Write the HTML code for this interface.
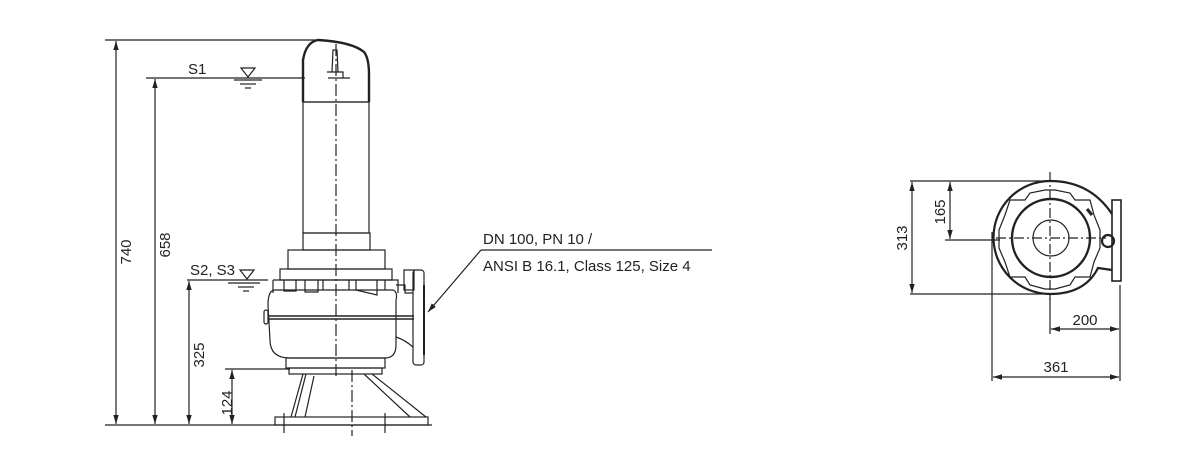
<!DOCTYPE html>
<html><head><meta charset="utf-8"><style>
html,body{margin:0;padding:0;background:#fff;width:1200px;height:453px;overflow:hidden}
svg text{font-family:"Liberation Sans",sans-serif;font-size:15px;fill:#222}
</style></head><body>
<svg width="1200" height="453" viewBox="0 0 1200 453" xmlns="http://www.w3.org/2000/svg">
<defs>
<marker id="a" viewBox="0 0 10 10" refX="10" refY="5" markerWidth="9" markerHeight="9" orient="auto-start-reverse" markerUnits="userSpaceOnUse"><path d="M0,2 L10,5 L0,8z" fill="#222"/></marker>
</defs>
<g stroke="#222" fill="none" stroke-width="1.2">
<line x1="105" y1="40" x2="318" y2="40"/>
<line x1="105" y1="425" x2="432" y2="425"/>
<line x1="146" y1="78" x2="305" y2="78"/>
<line x1="187" y1="280" x2="268" y2="280"/>
<line x1="225" y1="369" x2="290" y2="369"/>
<line x1="116" y1="41" x2="116" y2="424" marker-start="url(#a)" marker-end="url(#a)"/>
<line x1="155" y1="79" x2="155" y2="424" marker-start="url(#a)" marker-end="url(#a)"/>
<line x1="189" y1="281" x2="189" y2="424" marker-start="url(#a)" marker-end="url(#a)"/>
<line x1="232" y1="370" x2="232" y2="424" marker-start="url(#a)" marker-end="url(#a)"/>
<path d="M241,68 L255,68 L248,77z"/><line x1="234" y1="80" x2="262" y2="80"/><line x1="240" y1="84" x2="256" y2="84"/><line x1="245" y1="88" x2="251" y2="88"/>
<path d="M240,270 L254,270 L247,279z"/><line x1="228" y1="283" x2="260" y2="283"/><line x1="238" y1="287" x2="254" y2="287"/><line x1="243" y1="291" x2="249" y2="291"/>
<path d="M303,102 L303,60 Q306,42 318,40 Q352,42 364,52 Q369,58 369,75 L369,102" stroke-width="2.4"/>
<line x1="303" y1="102" x2="369" y2="102"/>
<path d="M332,72 L333,50 L337,50 L338,72 M327,72 L343,72 L343,78 M328,78 L350,78"/>
<rect x="303" y="102" width="66" height="131"/>
<rect x="303" y="233" width="67" height="17"/>
<rect x="288" y="250" width="97" height="19"/>
<rect x="280" y="269" width="112" height="11"/>
<path d="M273,280 L273,293 M273,280 L398,280 L398,293 M284,280 L284,291 L296,291 L296,280 M305,280 L305,292 L318,292 L318,280 M323,280 L323,290 M349,280 L349,290 M356,280 L356,290 L377,295 L377,280 M385,280 L385,290"/>
<path d="M275,290 L393,290 Q398,292 396,300 L396,345 Q396,358 385,358 L290,358 Q270,358 270,340 L268,305 Q268,290 275,290 Z"/>
<rect x="264" y="310" width="4" height="14" rx="2"/>
<line x1="268" y1="316" x2="414" y2="316" stroke-width="1.4"/><line x1="268" y1="319" x2="414" y2="319" stroke-width="1.4"/>
<path d="M396,285 L405,285 L405,293 L413,293 M396,337 Q405,340 413,347"/>
<rect x="404" y="270" width="10" height="20"/>
<rect x="413" y="270" width="11" height="95" rx="3"/>
<line x1="424" y1="285" x2="424" y2="355" stroke-width="2"/>
<rect x="286" y="358" width="99" height="10"/>
<rect x="289" y="368" width="93" height="6"/>
<rect x="275" y="417" width="153" height="8"/>
<path d="M303,374 L291,417 M306,374 L295,417 M314,376 L305,417 M364,374 L410,417 M372,374 L426,417"/>
<line x1="284" y1="413" x2="284" y2="433"/><line x1="385" y1="413" x2="385" y2="433"/>
<line x1="336" y1="44" x2="336" y2="376" stroke-dasharray="12,3,2,3"/>
<line x1="352" y1="370" x2="352" y2="436" stroke-dasharray="12,3,2,3"/>
<line x1="481" y1="250" x2="712" y2="250"/>
<line x1="481" y1="250" x2="428" y2="312" marker-end="url(#a)"/>
<line x1="910" y1="181" x2="1050" y2="181"/>
<line x1="910" y1="294" x2="1050" y2="294"/>
<line x1="945" y1="240" x2="1000" y2="240"/>
<line x1="912" y1="182" x2="912" y2="293" marker-start="url(#a)" marker-end="url(#a)"/>
<line x1="950" y1="182" x2="950" y2="239" marker-start="url(#a)" marker-end="url(#a)"/>
<line x1="992" y1="232" x2="992" y2="381"/>
<line x1="1120" y1="285" x2="1120" y2="381"/>
<line x1="1050" y1="294" x2="1050" y2="334"/>
<line x1="1051" y1="329" x2="1119" y2="329" marker-start="url(#a)" marker-end="url(#a)"/>
<line x1="993" y1="377" x2="1119" y2="377" marker-start="url(#a)" marker-end="url(#a)"/>
<path d="M1050,181 Q1090,181 1112,214 M1050,294 A56,56 0 0 1 1050,181 M1050,294 Q1085,294 1098,268 L1112,270" stroke-width="2.2"/>
<path d="M1010,200 L1025,200 L1030,193 L1045,190 L1055,190 L1070,193 L1075,200 L1090,200 L1094,215 L1100,230 L1100,248 L1094,262 L1090,277 L1075,277 L1070,285 L1055,289 L1045,289 L1030,285 L1025,277 L1010,277 L1005,262 L999,248 L999,230 L1005,215 Z"/>
<circle cx="1051" cy="238" r="39" stroke-width="2.4"/>
<circle cx="1051" cy="238" r="18"/>
<circle cx="1108" cy="241" r="6" stroke-width="2.2"/>
<rect x="1112" y="200" width="9" height="81" stroke-width="1.6"/>
<path d="M1087,209 L1092,215" stroke-width="3"/>
<line x1="1050" y1="172" x2="1050" y2="300" stroke-dasharray="10,3,2,3"/>
<line x1="996" y1="238" x2="1106" y2="238" stroke-dasharray="10,3,2,3"/>
</g>
<text x="188" y="74">S1</text>
<text x="190" y="275">S2, S3</text>
<text transform="translate(131,252) rotate(-90)" text-anchor="middle">740</text>
<text transform="translate(170,245) rotate(-90)" text-anchor="middle">658</text>
<text transform="translate(204,355) rotate(-90)" text-anchor="middle">325</text>
<text transform="translate(232,403) rotate(-90)" text-anchor="middle">124</text>
<text x="483" y="244">DN 100, PN 10 /</text>
<text x="483" y="271">ANSI B 16.1, Class 125, Size 4</text>
<text transform="translate(907,238) rotate(-90)" text-anchor="middle">313</text>
<text transform="translate(945,212) rotate(-90)" text-anchor="middle">165</text>
<text x="1085" y="325" text-anchor="middle">200</text>
<text x="1056" y="372" text-anchor="middle">361</text>
</svg>
</body></html>
